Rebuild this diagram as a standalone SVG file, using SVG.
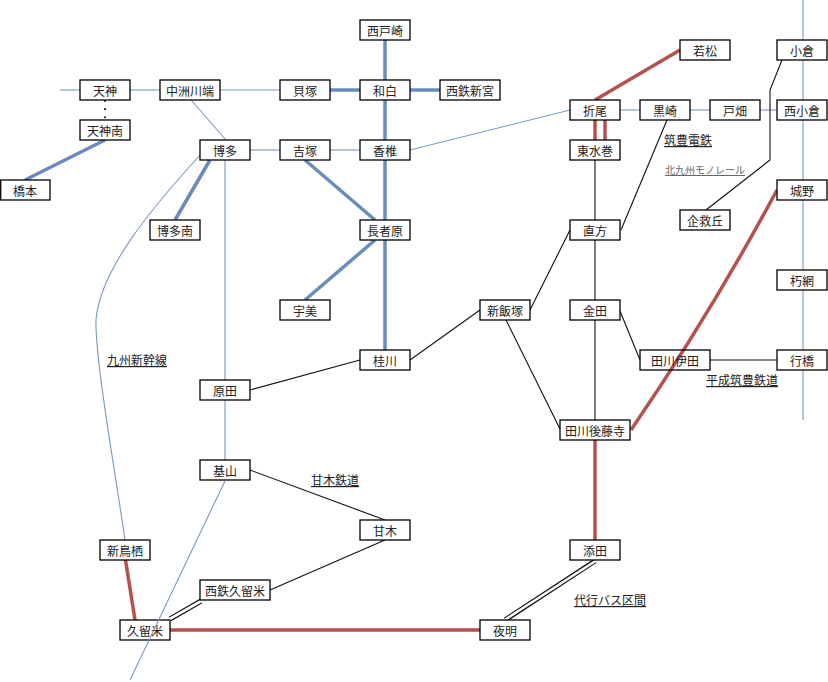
<svg xmlns="http://www.w3.org/2000/svg" width="828" height="682" viewBox="0 0 828 682">
<style>
.n rect{fill:#fff;stroke:#000;stroke-width:1.3}
.n text{font-family:"Noto Sans CJK JP","Liberation Sans",sans-serif;font-size:12px;fill:#222;text-anchor:middle;dominant-baseline:central}
.bt{stroke:#7b97c2;stroke-width:1.1;fill:none}
.bk{stroke:#6a8cbc;stroke-width:3.5;fill:none}
.rd{stroke:#b4514e;stroke-width:3.5;fill:none}
.k{stroke:#111;stroke-width:1.1;fill:none}
.dw{stroke:#111;stroke-width:5;fill:none}
.dwi{stroke:#fff;stroke-width:2.6;fill:none}
.lb{font-family:"Noto Sans CJK JP","Liberation Sans",sans-serif;font-size:12px;fill:#222;text-decoration:underline}
.lbs{font-family:"Noto Sans CJK JP","Liberation Sans",sans-serif;font-size:10px;fill:#666;text-decoration:underline}
</style>
<g id="connectors">
<line class="bt" x1="803" y1="0" x2="803" y2="420"/>
<line class="bt" x1="60" y1="90" x2="80" y2="90"/>
<line class="bt" x1="130" y1="90" x2="160" y2="90"/>
<line class="bt" x1="220" y1="90" x2="280" y2="90"/>
<line class="bt" x1="191" y1="100" x2="226" y2="140"/>
<line class="bt" x1="250" y1="150" x2="280" y2="150"/>
<line class="bt" x1="330" y1="150" x2="360" y2="150"/>
<line class="bt" x1="410" y1="150" x2="570" y2="110"/>
<line class="bt" x1="620" y1="110" x2="640" y2="110"/>
<line class="bt" x1="690" y1="110" x2="710" y2="110"/>
<line class="bt" x1="760" y1="110" x2="777" y2="110"/>
<line class="bt" x1="225" y1="160" x2="225" y2="380"/>
<line class="bt" x1="225" y1="400" x2="225" y2="460"/>
<path class="bt" d="M200,155 C150,210 100,270 96,320 C95,360 115,470 125,540"/>
<line x1="105" y1="101" x2="105" y2="120" stroke="#111" stroke-width="2" stroke-linecap="round" stroke-dasharray="0.1,8"/>
<line class="bk" x1="105" y1="140" x2="25" y2="180"/>
<line class="bk" x1="210" y1="160" x2="175" y2="220"/>
<line class="bk" x1="385" y1="40" x2="385" y2="80"/>
<line class="bk" x1="330" y1="90" x2="360" y2="90"/>
<line class="bk" x1="410" y1="90" x2="440" y2="90"/>
<line class="bk" x1="385" y1="100" x2="385" y2="140"/>
<line class="bk" x1="385" y1="160" x2="385" y2="220"/>
<line class="bk" x1="385" y1="240" x2="385" y2="350"/>
<line class="bk" x1="305" y1="160" x2="375" y2="220"/>
<line class="bk" x1="375" y1="240" x2="305" y2="300"/>
<line class="rd" x1="680" y1="50" x2="595" y2="100"/>
<line class="rd" x1="595" y1="120" x2="595" y2="140"/>
<line class="rd" x1="605" y1="120" x2="605" y2="140"/>
<line class="rd" x1="125.5" y1="560" x2="135" y2="620" stroke-width="3"/>
<line class="rd" x1="170" y1="630" x2="480" y2="630"/>
<line class="rd" x1="595" y1="440" x2="595" y2="540"/>
<path class="rd" d="M777,190 Q711,313 631,430"/>
<line class="k" x1="595" y1="160" x2="595" y2="220"/>
<line class="k" x1="595" y1="240" x2="595" y2="300"/>
<line class="k" x1="595" y1="320" x2="595" y2="420"/>
<line class="k" x1="667" y1="120" x2="621" y2="230"/>
<line class="k" x1="570" y1="230" x2="530" y2="310"/>
<line class="k" x1="506" y1="320" x2="560" y2="429"/>
<line class="k" x1="620" y1="311" x2="640" y2="360"/>
<line class="k" x1="710" y1="360" x2="777" y2="360"/>
<line class="k" x1="410" y1="360" x2="480" y2="310"/>
<line class="k" x1="250" y1="390" x2="360" y2="360"/>
<line class="k" x1="250" y1="470" x2="385" y2="520"/>
<line class="k" x1="385" y1="540" x2="270" y2="590"/>
<polyline class="k" points="782,60 770,90 770,160 706,210"/>
<line class="dw" x1="201" y1="601" x2="170" y2="619"/>
<line class="dwi" x1="203" y1="600" x2="168" y2="620"/>
<line class="dw" x1="595" y1="561" x2="505" y2="620"/>
<line class="dwi" x1="597" y1="560" x2="503" y2="621"/>
</g>
<g id="nodes" class="n">
<g id="n-tenjin"><rect x="80" y="80" width="50" height="20"/><text x="105" y="90">天神</text></g>
<g id="n-nakasu"><rect x="160" y="80" width="60" height="20"/><text x="190" y="90">中洲川端</text></g>
<g id="n-tenjinminami"><rect x="80" y="120" width="50" height="20"/><text x="105" y="130">天神南</text></g>
<g id="n-hashimoto"><rect x="0.7" y="180" width="49.3" height="20"/><text x="25" y="190">橋本</text></g>
<g id="n-hakata"><rect x="200" y="140" width="50" height="20"/><text x="225" y="150">博多</text></g>
<g id="n-hakataminami"><rect x="150" y="220" width="50" height="20"/><text x="175" y="230">博多南</text></g>
<g id="n-saitozaki"><rect x="360" y="20" width="50" height="20"/><text x="385" y="30">西戸崎</text></g>
<g id="n-kaizuka"><rect x="280" y="80" width="50" height="20"/><text x="305" y="90">貝塚</text></g>
<g id="n-wajiro"><rect x="360" y="80" width="50" height="20"/><text x="385" y="90">和白</text></g>
<g id="n-nishitetsushingu"><rect x="440" y="80" width="60" height="20"/><text x="470" y="90">西鉄新宮</text></g>
<g id="n-yoshizuka"><rect x="280" y="140" width="50" height="20"/><text x="305" y="150">吉塚</text></g>
<g id="n-kashii"><rect x="360" y="140" width="50" height="20"/><text x="385" y="150">香椎</text></g>
<g id="n-chojabaru"><rect x="360" y="220" width="50" height="20"/><text x="385" y="230">長者原</text></g>
<g id="n-umi"><rect x="280" y="300" width="50" height="20"/><text x="305" y="310">宇美</text></g>
<g id="n-keisen"><rect x="360" y="350" width="50" height="20"/><text x="385" y="360">桂川</text></g>
<g id="n-shiniizuka"><rect x="480" y="300" width="50" height="20"/><text x="505" y="310">新飯塚</text></g>
<g id="n-haruda"><rect x="200" y="380" width="50" height="20"/><text x="225" y="390">原田</text></g>
<g id="n-kiyama"><rect x="200" y="460" width="50" height="20"/><text x="225" y="470">基山</text></g>
<g id="n-amagi"><rect x="360" y="520" width="50" height="20"/><text x="385" y="530">甘木</text></g>
<g id="n-nishitetsukurume"><rect x="200" y="580" width="70" height="20"/><text x="235" y="590">西鉄久留米</text></g>
<g id="n-shintosu"><rect x="100" y="540" width="50" height="20"/><text x="125" y="550">新鳥栖</text></g>
<g id="n-kurume"><rect x="120" y="620" width="50" height="20"/><text x="145" y="630">久留米</text></g>
<g id="n-yoake"><rect x="480" y="620" width="50" height="20"/><text x="505" y="630">夜明</text></g>
<g id="n-soeda"><rect x="570" y="540" width="50" height="20"/><text x="595" y="550">添田</text></g>
<g id="n-tagawagotoji"><rect x="560" y="420" width="70" height="20"/><text x="595" y="430">田川後藤寺</text></g>
<g id="n-kanada"><rect x="570" y="300" width="50" height="20"/><text x="595" y="310">金田</text></g>
<g id="n-tagawaita"><rect x="640" y="350" width="70" height="20" style="fill:none"/><text x="675" y="360">田川伊田</text></g>
<g id="n-nogata"><rect x="570" y="220" width="50" height="20"/><text x="595" y="230">直方</text></g>
<g id="n-higashimizumaki"><rect x="570" y="140" width="50" height="20"/><text x="595" y="150">東水巻</text></g>
<g id="n-orio"><rect x="570" y="100" width="50" height="20"/><text x="595" y="110">折尾</text></g>
<g id="n-kurosaki"><rect x="640" y="100" width="50" height="20"/><text x="665" y="110">黒崎</text></g>
<g id="n-tobata"><rect x="710" y="100" width="50" height="20"/><text x="735" y="110">戸畑</text></g>
<g id="n-wakamatsu"><rect x="680" y="40" width="50" height="20"/><text x="705" y="50">若松</text></g>
<g id="n-kokura"><rect x="777" y="40" width="50" height="20"/><text x="802" y="50">小倉</text></g>
<g id="n-nishikokura"><rect x="777" y="100" width="50" height="20"/><text x="802" y="110">西小倉</text></g>
<g id="n-jono"><rect x="777" y="180" width="50" height="20"/><text x="802" y="190">城野</text></g>
<g id="n-kikugaoka"><rect x="680" y="210" width="50" height="20"/><text x="705" y="220">企救丘</text></g>
<g id="n-kusami"><rect x="777" y="270" width="50" height="20"/><text x="802" y="280">朽網</text></g>
<g id="n-yukuhashi"><rect x="777" y="350" width="50" height="20"/><text x="802" y="360">行橋</text></g>
</g>
<g id="connectors-over">
<line class="bt" x1="225" y1="481" x2="130" y2="680"/>
</g>
<g id="labels">
<text class="lb" x="107" y="365">九州新幹線</text>
<text class="lb" x="311" y="485">甘木鉄道</text>
<text class="lb" x="574" y="605">代行バス区間</text>
<text class="lb" x="706" y="385">平成筑豊鉄道</text>
<text class="lb" x="664" y="145">筑豊電鉄</text>
<text class="lbs" x="665" y="174">北九州モノレール</text>
</g>
</svg>
